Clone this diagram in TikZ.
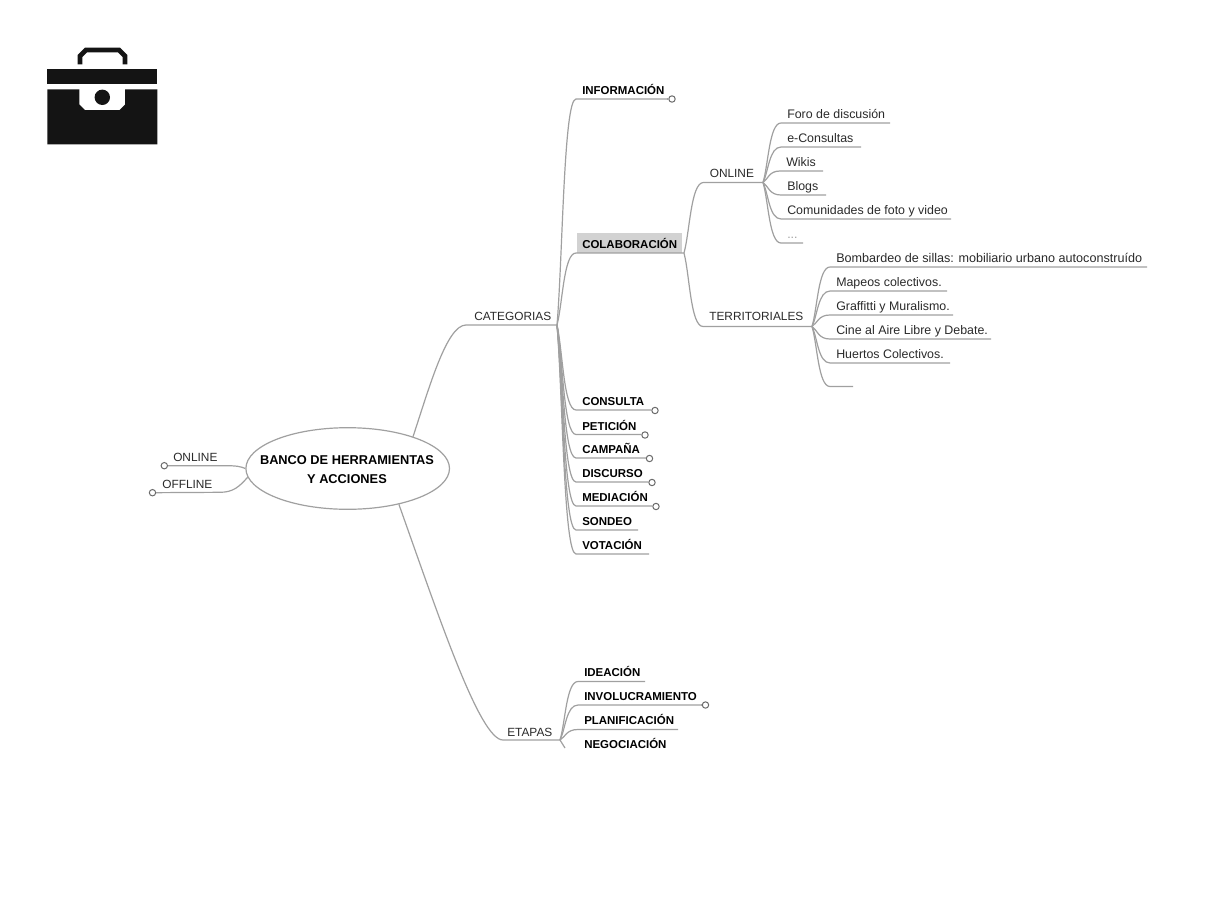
\documentclass[tikz,border=0pt]{standalone}
\usepackage{fontspec}
\setmainfont{Liberation Sans}
\usetikzlibrary{calc,shapes.geometric}
\definecolor{linkgray}{HTML}{A0A0A0}
\definecolor{inkdark}{HTML}{2A2A2A}
\definecolor{boxgray}{HTML}{D2D2D2}
\tikzset{
  link/.style={draw=linkgray,line width=0.9pt},
  plainlbl/.style={anchor=base west,inner sep=0pt,text=inkdark,font=\fontsize{9.3pt}{11pt}\selectfont},
  caplbl/.style={anchor=base west,inner sep=0pt,text=inkdark,font=\fontsize{8.9pt}{11pt}\selectfont},
  boldlbl/.style={anchor=base west,inner sep=0pt,text=black,font=\fontsize{8.6pt}{11pt}\selectfont\bfseries},
  faintlbl/.style={plainlbl,text=linkgray},
  knobnode/.style={circle,draw=inkdark!70,fill=white,line width=0.75pt,inner sep=0pt,minimum size=4.8pt},
  rootnode/.style={ellipse,draw=linkgray,line width=0.9pt,inner sep=0pt,minimum width=152.7pt,minimum height=61.2pt},
  rootlbl/.style={inner sep=0pt,align=center,text=black,font=\fontsize{9.6pt}{14.25pt}\selectfont\bfseries},
  icon/.style={fill=black!92,draw=none}
}
% name, hub, text x, line y, line end x, label style, text
\newcommand\leaf[7]{%
  \node[#6] (#1) at (#3,#4-4.5) {#7};
  \coordinate (#1-s) at (#3-6,#4);
  \coordinate (#1-e) at (#5,#4);
  \draw[link] (#2) .. controls ($(#2)!.3!(#1-s)$) and ($(#2 |- #1-s)!.35!(#1-s)$) .. (#1-s) -- (#1-e);
}
\newcommand\knob[3]{%
  \node[knobnode] (#1-k) at (#2,#3) {};
  \draw[link] (#1-e) -- (#1-k);
}
\begin{document}
\begin{tikzpicture}[x=0.75pt,y=-0.75pt]
\useasboundingbox (0,0) rectangle (1208,900);
\fill[white] (0,0) rectangle (1208,900);
% briefcase icon
\fill[icon] (47.3,69.3) rectangle (157.3,84.3);
\draw[black!92,line width=3.6pt] (80,64.3) -- (80,56) -- (86,50) -- (119,50) -- (125,56) -- (125,64.3);
\fill[icon] (47.3,89.3) -- (79.3,89.3) -- (79.3,104.5) -- (85,110) -- (119.5,110) -- (125,104.5) -- (125,89.3) -- (157.3,89.3) -- (157.3,144.3) -- (47.3,144.3) -- cycle;
\fill[icon] (102.3,97.3) circle[radius=7.7];
% root
\node[rootnode] (root) at (347.7,468.5) {};
\node[rootlbl] (rootl) at (347,469.8) {BANCO DE HERRAMIENTAS\\Y ACCIONES};
% left side
\node[caplbl] (lon) at (173,461) {ONLINE};
\node[knobnode] (lonk) at (164.3,465.7) {};
\draw[link] (root.180) .. controls (241,466.5) and (236,465.7) .. (226,465.7) -- (lonk);
\node[caplbl] (loff) at (162,488) {OFFLINE};
\node[knobnode] (loffk) at (152.5,492.7) {};
\draw[link] (root.185) .. controls (239,487) and (233,492.3) .. (220,492.3) -- (loffk);
% categorias
\node[caplbl] (cat) at (474,320) {CATEGORIAS};
\coordinate (catS) at (466,325);
\coordinate (catH) at (557,325);
\draw[link] (root.26) .. controls (430,385) and (447,325) .. (catS) -- (catH);
\leaf{info}{catH}{582}{99}{667}{boldlbl}{INFORMACIÓN}
\knob{info}{672}{99}
\fill[boxgray] (577,233) rectangle (682,253);
\leaf{colab}{catH}{582}{253}{684}{boldlbl}{COLABORACIÓN}
\coordinate (colabH) at (684,253);
\leaf{consulta}{catH}{582}{410}{651}{boldlbl}{CONSULTA}
\knob{consulta}{655}{410.5}
\leaf{peticion}{catH}{582}{434.5}{641}{boldlbl}{PETICIÓN}
\knob{peticion}{645}{435}
\leaf{campana}{catH}{582}{458}{645}{boldlbl}{CAMPAÑA}
\knob{campana}{649.5}{458.5}
\leaf{discurso}{catH}{582}{482}{648}{boldlbl}{DISCURSO}
\knob{discurso}{652}{482.5}
\leaf{mediacion}{catH}{582}{506}{652}{boldlbl}{MEDIACIÓN}
\knob{mediacion}{656}{506.5}
\leaf{sondeo}{catH}{582}{530}{638}{boldlbl}{SONDEO}
\leaf{votacion}{catH}{582}{554}{649}{boldlbl}{VOTACIÓN}
% colaboracion children
\leaf{online}{colabH}{709.5}{182.5}{763}{caplbl,yshift=0.6pt}{ONLINE}
\coordinate (onH) at (763,182.5);
\leaf{terr}{colabH}{709}{326.5}{812}{caplbl,yshift=1.2pt}{TERRITORIALES}
\coordinate (terrH) at (812,326.5);
% online children
\leaf{foro}{onH}{787}{123}{890}{plainlbl}{Foro de discusión}
\leaf{econs}{onH}{787}{147}{861}{plainlbl}{e-Consultas}
\leaf{wikis}{onH}{786}{171}{823}{plainlbl}{Wikis}
\leaf{blogs}{onH}{787}{195}{826}{plainlbl}{Blogs}
\leaf{comun}{onH}{787}{219}{951}{plainlbl}{Comunidades de foto y video}
\leaf{dots}{onH}{787}{243}{803}{faintlbl}{...}
% territoriales children
\leaf{bomb}{terrH}{836}{267}{1147}{plainlbl,font=\fontsize{9.45pt}{11pt}\selectfont}{Bombardeo de sillas: mobiliario urbano autoconstruído}
\leaf{mapeos}{terrH}{836}{291}{947}{plainlbl}{Mapeos colectivos.}
\leaf{graff}{terrH}{836}{315}{953}{plainlbl}{Graffitti y Muralismo.}
\leaf{cine}{terrH}{836}{339}{991}{plainlbl}{Cine al Aire Libre y Debate.}
\leaf{huertos}{terrH}{836}{363}{950}{plainlbl}{Huertos Colectivos.}
\leaf{blank}{terrH}{836}{386.5}{853}{plainlbl}{}
% etapas
\node[caplbl] (eta) at (507,736) {ETAPAS};
\coordinate (etaS) at (503,740);
\coordinate (etaH) at (560,740);
\draw[link] (root.325) .. controls (440,620) and (480,740) .. (etaS) -- (etaH);
\leaf{idea}{etaH}{584}{681.5}{645}{boldlbl,yshift=0.5pt}{IDEACIÓN}
\leaf{invol}{etaH}{584}{705}{701}{boldlbl}{INVOLUCRAMIENTO}
\knob{invol}{705.5}{705}
\leaf{plan}{etaH}{584}{729.5}{678}{boldlbl,yshift=0.5pt}{PLANIFICACIÓN}
\node[boldlbl] (nego) at (584,748) {NEGOCIACIÓN};
\coordinate (negoS) at (565,748);
\draw[link] (etaH) -- (negoS);
\end{tikzpicture}
\end{document}
